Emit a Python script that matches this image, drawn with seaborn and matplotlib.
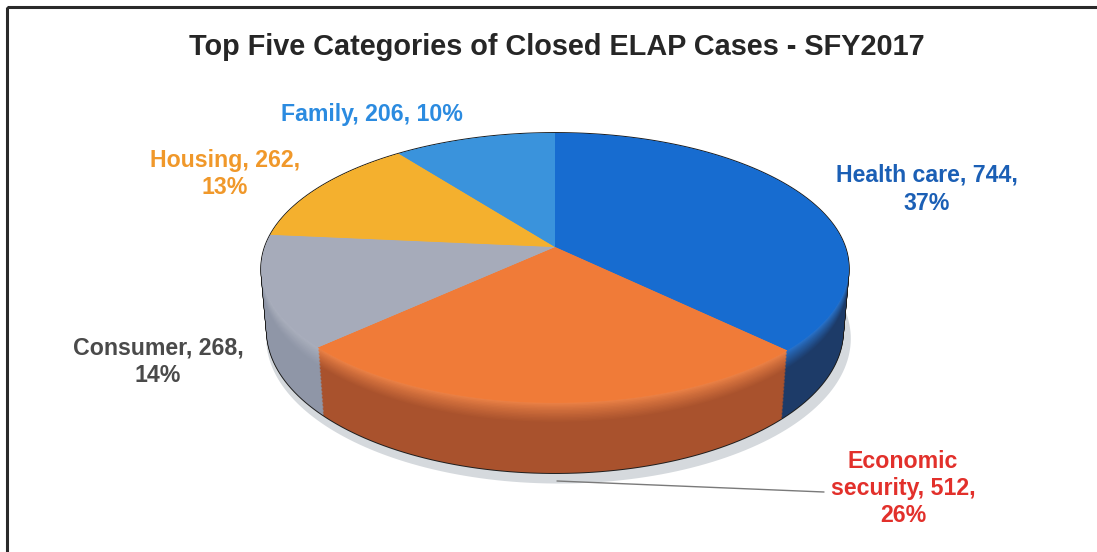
import numpy as np
import matplotlib
matplotlib.use("Agg")
import matplotlib.pyplot as plt
import matplotlib.transforms as mtransforms
from matplotlib.path import Path
from matplotlib.patches import Rectangle, Circle
from matplotlib.colors import to_rgb
import seaborn as sns

# Closed ELAP cases by category, SFY2017
categories = ["Health care", "Economic security", "Consumer", "Housing", "Family"]
cases = [744, 512, 268, 262, 206]
percents = [37, 26, 14, 13, 10]

top_colors = ["#176cd0", "#f07b38", "#a6abba", "#f4b02e", "#3a93dc"]
side_colors = ["#1d3b68", "#a9522d", "#8f96a7", "#c98d1c", "#2a6fae"]
label_colors = ["#1b5fb5", "#e2302b", "#4a4a4a", "#f0982a", "#2b8be0"]

sns.set_theme(style="white")
plt.rcParams["font.family"] = ["Liberation Sans", "DejaVu Sans"]

W, H = 1097, 552
CX, CY = 555, 247            # screen position of the disc centre (pixels)
TILT = np.deg2rad(27.0)      # viewing elevation
DIST = 5.73                  # camera distance in disc radii
FOCAL = 1662.0               # focal length in pixels
THICK = 0.246                # disc thickness in radii


class DiscProjection(mtransforms.Transform):
    """Perspective view of a horizontal unit disc lying `h` radii below the top face."""
    input_dims = output_dims = 2
    is_separable = False
    has_inverse = False

    def __init__(self, h=0.0):
        super().__init__()
        self.h = h

    def transform_non_affine(self, values):
        xy = np.asarray(values, dtype=float).reshape(-1, 2)
        X = xy[:, 0]
        Z = -xy[:, 1]                      # pie "up" is the far side of the disc
        s, c = np.sin(TILT), np.cos(TILT)
        down = Z * s + self.h * c
        depth = DIST - Z * c + self.h * s
        return np.column_stack([FOCAL * X / depth, -FOCAL * down / depth])

    def transform_path_non_affine(self, path):
        scale = 2000.0
        polys = path.to_polygons(transform=mtransforms.Affine2D().scale(scale), closed_only=True)
        parts = [Path(self.transform_non_affine(np.asarray(p) / scale), closed=True) for p in polys]
        return Path.make_compound_path(*parts)


def blend(c1, c2, t):
    a, b = np.array(to_rgb(c1)), np.array(to_rgb(c2))
    return tuple(a + (b - a) * t)


fig = plt.figure(figsize=(W / 100, H / 100), dpi=100)
fig.patch.set_facecolor("white")

# background axes in pixel units for frame, title and labels
bg = fig.add_axes([0, 0, 1, 1])
bg.set_xlim(0, W)
bg.set_ylim(H, 0)
bg.axis("off")
bg.add_patch(Rectangle((7, 7), W + 20, H + 20, fill=False, edgecolor="#2a2a2a", linewidth=2.2))
bg.text(557, 47, "Top Five Categories of Closed ELAP Cases - SFY2017", ha="center", va="center",
        fontsize=20.8, fontweight="bold", color="#262626")

# pie axes: pixel offsets from the disc centre, y upwards
pax = fig.add_axes([0, 0, 1, 1])
pax.patch.set_alpha(0)

# soft shadow under the disc
shadow = Circle((0.012, -0.025), 1.012, facecolor="#d5d9dd", edgecolor="none")
pax.add_patch(shadow)
shadow.set_transform(DiscProjection(THICK + 0.012) + pax.transData)

n_layers = 50
heights = np.linspace(THICK, 0.0, n_layers)

# dark rim around the whole silhouette
for hh in heights:
    rim = Circle((0, 0), 1.0, facecolor="none", edgecolor="#1e1e1e", linewidth=1.4)
    pax.add_patch(rim)
    rim.set_transform(DiscProjection(hh) + pax.transData)

# side wall: stacked copies of the pie, lowest first, lighter towards the top edge
bevel = 0.07
for hh in heights:
    t = min(1.0, hh / bevel) ** 0.8
    cols = [blend(blend(tc, "#ffffff", 0.08), sc, t) for tc, sc in zip(top_colors, side_colors)]
    wedges, _ = pax.pie(cases, colors=cols, startangle=90, counterclock=False,
                        radius=1.0, wedgeprops=dict(linewidth=0))
    for w in wedges:
        w.set_transform(DiscProjection(hh) + pax.transData)

# top face
wedges, _ = pax.pie(cases, colors=top_colors, startangle=90, counterclock=False,
                    radius=1.0, wedgeprops=dict(linewidth=0))
for w in wedges:
    w.set_transform(DiscProjection(0.0) + pax.transData)

pax.set_aspect("auto")
pax.set_xlim(-CX, W - CX)
pax.set_ylim(-(H - CY), CY)
pax.axis("off")

# leader line for the economic security label
pax.plot([557 - CX, 824 - CX], [CY - 481, CY - 492], color="#7a7a7a", linewidth=1.0, zorder=5)

# data labels
fs = 16.7
label_pos = {
    "Health care": (927, [175, 203]),
    "Economic security": (903, [461, 489, 516]),
    "Consumer": (158, [348, 376]),
    "Housing": (225, [160, 187]),
    "Family": (372, [115]),
}
for name, n, p, col in zip(categories, cases, percents, label_colors):
    x, ys = label_pos[name]
    if name == "Economic security":
        lines = ["Economic", f"security, {n},", f"{p}%"]
    elif name == "Family":
        lines = [f"{name}, {n}, {p}%"]
    else:
        lines = [f"{name}, {n},", f"{p}%"]
    for y, s in zip(ys, lines):
        bg.text(x, y, s, ha="center", va="center", fontsize=fs, fontweight="bold", color=col)

fig.savefig("out.png", dpi=100, facecolor="white")
